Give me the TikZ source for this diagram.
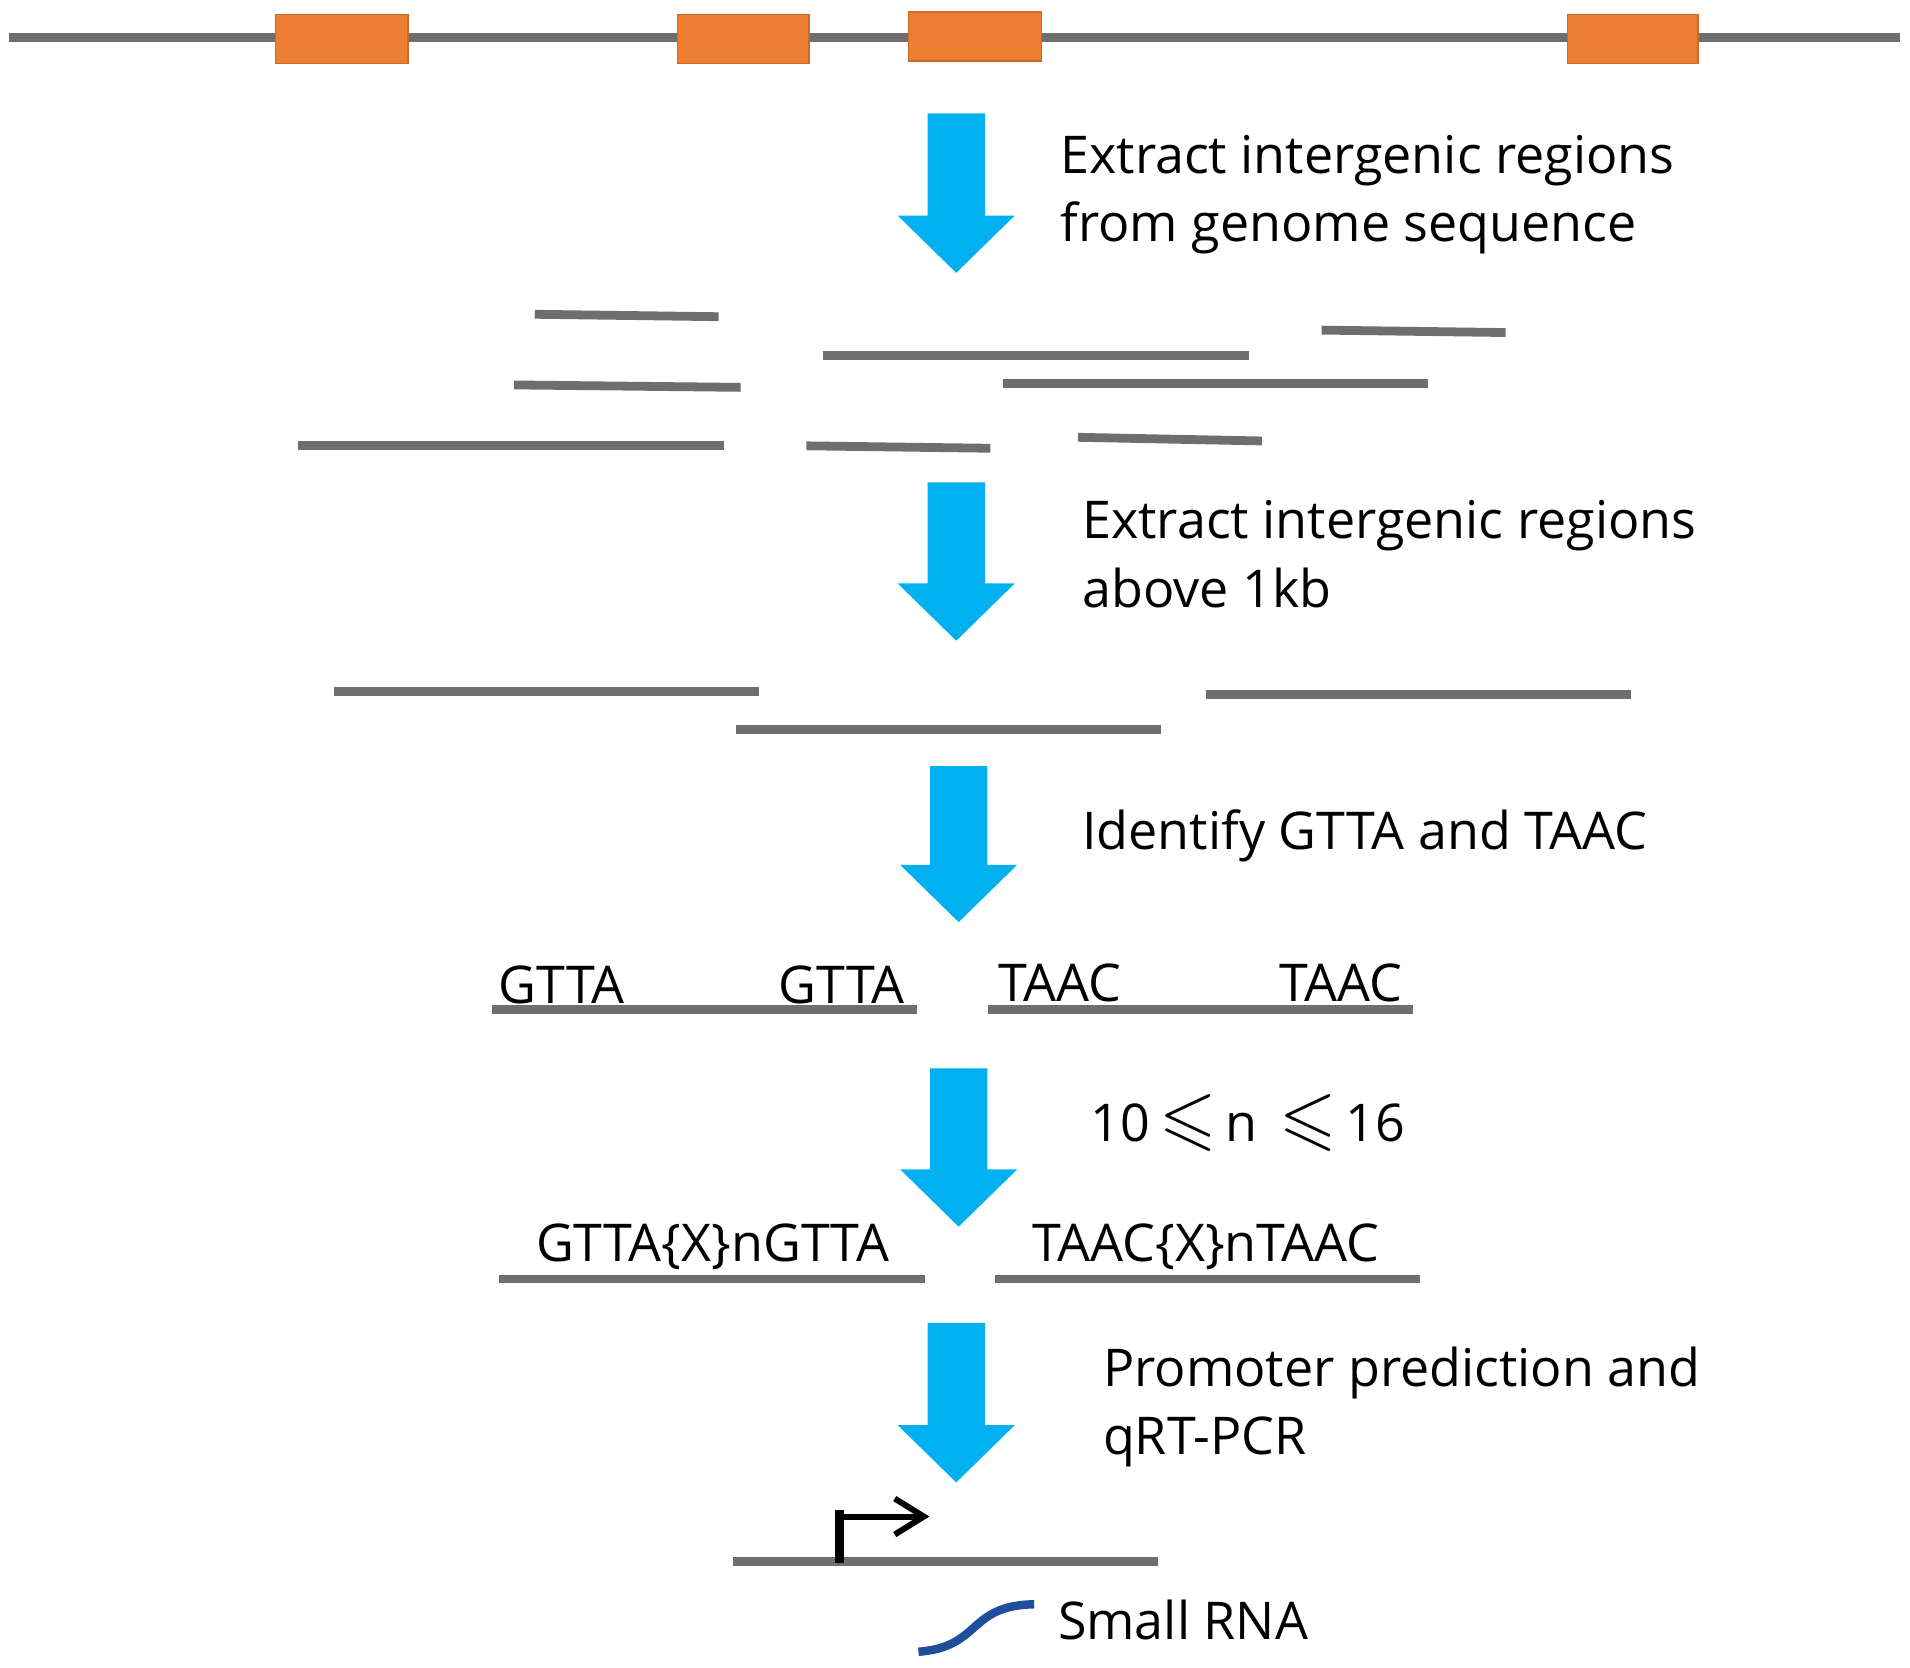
\documentclass[tikz,border=0pt]{standalone}
\usepackage{fontspec}
\setmainfont{Open Sans}
\usepackage{amssymb}
\usetikzlibrary{arrows.meta}
\definecolor{exonorange}{HTML}{ED7D31}
\definecolor{flowblue}{HTML}{00B0F0}
\definecolor{seqgray}{HTML}{6E6E6E}
\definecolor{rnablue}{HTML}{1F4E9C}
\def\flowarrow(#1:#2:#3){\fill[flowblue] (#1-23.5,#2) -- (#1+23.5,#2) -- (#1+23.5,#3-47) -- (#1+48,#3-47) -- (#1,#3) -- (#1-48,#3-47) -- (#1-23.5,#3-47) -- cycle;}
\def\bigleq{\,{\fontsize{21}{21}\selectfont$\leqslant$}\,}
\tikzset{
  seq/.style={draw=seqgray, line width=2.5pt},
  exon/.style={fill=exonorange, draw=exonorange!85!black, line width=0.4pt},
  steptext/.style={anchor=west, align=left, inner sep=0pt, font=\fontsize{14.8}{19.4}\selectfont},
  motif/.style={inner sep=0pt, font=\fontsize{14.8}{19.4}\selectfont},
  promo/.style={line width=1.7pt, -{Straight Barb[length=2.9mm, width=3.6mm, line width=1.7pt]}},
  rna/.style={draw=rnablue, line width=2.4pt}
}

\begin{document}
\begin{tikzpicture}[x=0.01218cm, y=-0.01218cm]
			%%%%% START %%%%%
			\useasboundingbox (0,0) rectangle (1568,1369);
			
			\draw[seq] (7, 31) -- (1560, 31);
			\draw[exon] (226, 12) rectangle (335, 52);
			\draw[exon] (556, 12) rectangle (664, 52);
			\draw[exon] (746, 10) rectangle (855, 50);
			\draw[exon] (1287, 12) rectangle (1394, 52);
			
			\flowarrow(785:93:224)
			\node[steptext] (extract) at (870, 160) {Extract intergenic regions\\from genome sequence};
			
			\draw[seq] (439, 258) -- (590, 260);
			\draw[seq] (676, 292) -- (1025, 292);
			\draw[seq] (1085, 271) -- (1236, 273);
			\draw[seq] (422, 316) -- (608, 318);
			\draw[seq] (823, 315) -- (1172, 315);
			\draw[seq] (245, 366) -- (594, 366);
			\draw[seq] (662, 366) -- (813, 368);
			\draw[seq] (885, 359) -- (1036, 362);
			
			\flowarrow(785:396:526)
			\node[steptext] (longer) at (888, 455) {Extract intergenic regions\\above 1kb};
			
			\draw[seq] (274, 568) -- (623, 568);
			\draw[seq] (604, 599) -- (953, 599);
			\draw[seq] (990, 570) -- (1339, 570);
			
			\flowarrow(787:629:757)
			\node[steptext] (identify) at (888, 686) {Identify GTTA and TAAC};
			
			\draw[seq] (404, 829) -- (753, 829);
			\draw[seq] (811, 829) -- (1160, 829);
			\node[motif, anchor=base west] (gttaL) at (409, 824) {GTTA};
			\node[motif, anchor=base east] (gttaR) at (743, 824) {GTTA};
			\node[motif, anchor=base west] (taacL) at (819, 822) {TAAC};
			\node[motif, anchor=base east] (taacR) at (1152, 822) {TAAC};
			
			\flowarrow(787:877:1007)
			\node[steptext] (range) at (895, 922) {10\bigleq n \bigleq 16};
			
			\draw[seq] (410, 1050) -- (759, 1050);
			\draw[seq] (817, 1050) -- (1166, 1050);
			\node[motif, anchor=base] (gttaRep) at (585, 1036) {GTTA\{X\}nGTTA};
			\node[motif, anchor=base] (taacRep) at (990, 1036) {TAAC\{X\}nTAAC};
			
			\flowarrow(785:1086:1217)
			\node[steptext] (promoter) at (905, 1155) {Promoter prediction and\\qRT-PCR};
			
			\draw[seq] (602, 1282) -- (951, 1282);
			\coordinate (tss) at (689, 1283);
			\draw[line width=2.6pt] (tss) -- ++(0, -43);
			\draw[promo] ([xshift=-1.3pt]tss |- 0, 1245) -- (763, 1245);
			
			\node[steptext] (srna) at (868, 1330) {Small RNA};
			\draw[rna] (754, 1356) .. controls (806, 1352) and (794, 1318) .. (849, 1317);
			%%%%% END %%%%%
\end{tikzpicture}
\end{document}
